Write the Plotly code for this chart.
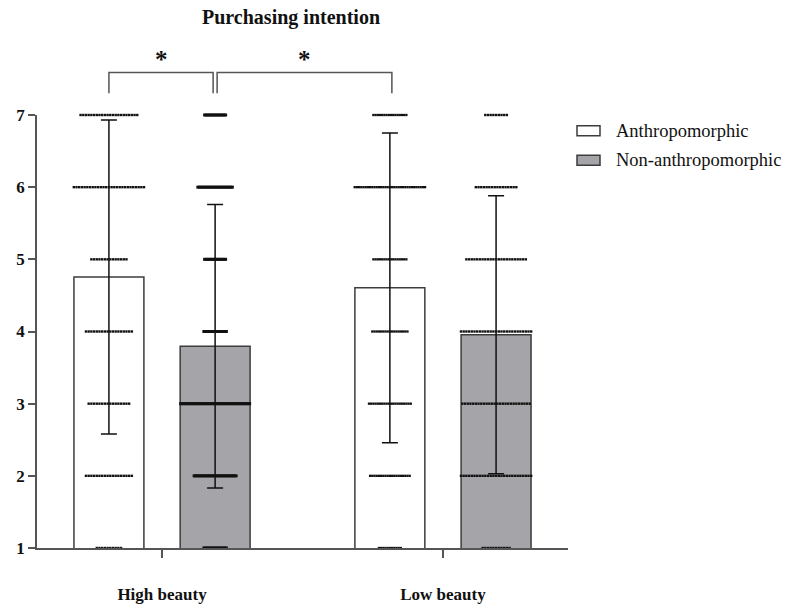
import numpy as np
import plotly.graph_objects as go

# ---------------- data ----------------
title_text = "Purchasing intention"
groups = ["High beauty", "Low beauty"]
series = ["Anthropomorphic", "Non-anthropomorphic"]

anthro_means = [4.755, 4.605]
anthro_sds = [2.175, 2.145]
nonanthro_means = [3.795, 3.955]
nonanthro_sds = [1.965, 1.925]

levels = [7, 6, 5, 4, 3, 2, 1]
# number of individual responses at each level (estimated from the dot rows)
counts_anthro_high = [22, 27, 14, 18, 16, 18, 10]
counts_nonanthro_high = [15, 24, 15, 16, 47, 29, 16]
counts_anthro_low = [16, 33, 16, 17, 20, 19, 11]
counts_nonanthro_low = [9, 16, 23, 27, 26, 27, 11]

y_ticks = [1, 2, 3, 4, 5, 6, 7]
sig_label = "*"

# ---------------- styling / layout ----------------
FONT = "Liberation Serif"
GREY = "#a5a4a9"
EDGE = "#3c3c3c"
AX = "#555555"

W, H = 788, 616
ML, MR, MT, MB = 37, 220, 115, 61
plot_w = W - ML - MR
plot_h = H - MT - MB
xmin, xmax = -0.445, 1.445
ymin, ymax = 1, 7
pxu = plot_w / (xmax - xmin)   # px per x unit

bar_w = 0.249
shift = 0.189
gx = np.arange(len(groups))

def xp(xd):
    return (xd - xmin) / (xmax - xmin)

def yp(yd):
    return (yd - ymin) / (ymax - ymin)

fig = go.Figure()

fig.add_trace(go.Bar(
    x=gx, y=anthro_means, name=series[0], width=bar_w, offset=-shift - bar_w / 2,
    marker=dict(color="white", line=dict(color=EDGE, width=1.5)),
    error_y=dict(type="data", array=anthro_sds, visible=True, color="#111", thickness=1.5, width=8),
    showlegend=False,
))
fig.add_trace(go.Bar(
    x=gx, y=nonanthro_means, name=series[1], width=bar_w, offset=shift - bar_w / 2,
    marker=dict(color=GREY, line=dict(color=EDGE, width=1.5)),
    error_y=dict(type="data", array=nonanthro_sds, visible=True, color="#111", thickness=1.5, width=8),
    showlegend=False,
))

dot_sets = [
    (0, -shift, counts_anthro_high, 2.7, 2.4),
    (0, shift, counts_nonanthro_high, 1.5, 3.0),
    (1, -shift, counts_anthro_low, 2.2, 2.3),
    (1, shift, counts_nonanthro_low, 2.7, 2.4),
]
for g, off, counts, sp_px, msize in dot_sets:
    xs, ys = [], []
    for lev, n in zip(levels, counts):
        c = gx[g] + off
        for i in range(n):
            xs.append(c + (i - (n - 1) / 2) * sp_px / pxu)
            ys.append(lev)
    fig.add_trace(go.Scatter(
        x=xs, y=ys, mode="markers", cliponaxis=False, showlegend=False,
        marker=dict(color="#111", size=msize, symbol="square", line=dict(width=0)),
        hoverinfo="skip",
    ))

# significance brackets
centers = {
    ("a", 0): gx[0] - shift, ("n", 0): gx[0] + shift,
    ("a", 1): gx[1] - shift, ("n", 1): gx[1] + shift,
}
y_top, y_leg, y_star = 7.59, 7.30, 7.79
gap = 2 / pxu
brackets = [
    (centers[("a", 0)], centers[("n", 0)] - gap),
    (centers[("n", 0)] + gap, centers[("a", 1)] + gap),
]
shapes = []
annotations = []
for x0, x1 in brackets:
    shapes.append(dict(
        type="path", xref="paper", yref="paper",
        path=f"M{xp(x0)},{yp(y_leg)} L{xp(x0)},{yp(y_top)} L{xp(x1)},{yp(y_top)} L{xp(x1)},{yp(y_leg)}",
        line=dict(color=AX, width=1.5),
    ))
    annotations.append(dict(
        x=xp((x0 + x1) / 2), y=yp(y_star), xref="paper", yref="paper",
        text=f"<b>{sig_label}</b>", showarrow=False, xanchor="center", yanchor="middle",
        font=dict(family=FONT, size=25, color="#111"), yshift=-2,
    ))

# manual legend
def px_x(px):
    return (px - ML) / plot_w

def px_y(py):
    return (H - MB - py) / plot_h

legend_rows = [(series[0], "white", 131), (series[1], GREY, 161)]
for name, col, cy in legend_rows:
    shapes.append(dict(
        type="rect", xref="paper", yref="paper",
        x0=px_x(577), x1=px_x(600), y0=px_y(cy - 5), y1=px_y(cy + 5),
        line=dict(color=EDGE, width=1.5), fillcolor=col,
    ))
    annotations.append(dict(
        x=px_x(614), y=px_y(cy), xref="paper", yref="paper", text=name,
        showarrow=False, xanchor="left", yanchor="middle",
        font=dict(family=FONT, size=18.5, color="#111"),
    ))

annotations.append(dict(
    x=px_x(291), y=px_y(16), xref="paper", yref="paper",
    text=f"<b>{title_text}</b>", showarrow=False, xanchor="center", yanchor="middle",
    font=dict(family=FONT, size=20, color="#111"),
))

fig.update_layout(
    width=W, height=H, margin=dict(l=ML, r=MR, t=MT, b=MB),
    paper_bgcolor="white", plot_bgcolor="white",
    barmode="overlay", showlegend=False,
    shapes=shapes, annotations=annotations,
    font=dict(family=FONT, color="#111"),
)
fig.update_xaxes(
    range=[xmin, xmax], tickvals=list(gx), ticktext=[f"<b>{g}</b>" for g in groups],
    showline=True, linecolor=AX, linewidth=1.5, ticks="outside", ticklen=8,
    tickwidth=1.5, tickcolor=AX, showgrid=False, zeroline=False,
    tickfont=dict(family=FONT, size=17, color="#111"), ticklabelstandoff=22,
)
fig.update_yaxes(
    range=[ymin, ymax], tickvals=y_ticks, ticktext=[f"<b>{t}</b>" for t in y_ticks],
    showline=True, linecolor=AX, linewidth=1.5, ticks="outside", ticklen=7,
    tickwidth=1.5, tickcolor=AX, showgrid=False, zeroline=False,
    tickfont=dict(family=FONT, size=17, color="#111"),
)

fig.write_html("out.html")
